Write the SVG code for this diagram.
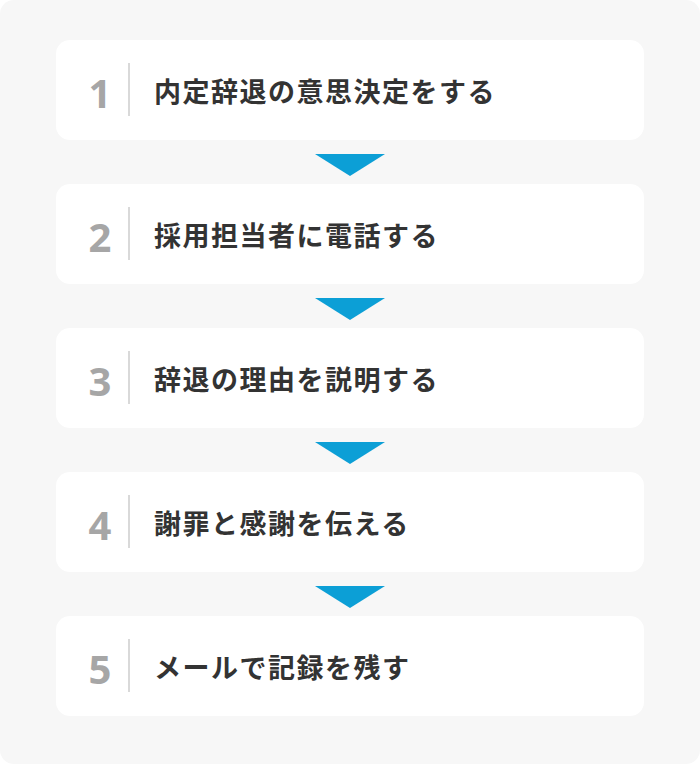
<svg xmlns="http://www.w3.org/2000/svg" width="700" height="764" viewBox="0 0 700 764">
<style>
.card{fill:#ffffff}
.num{font-family:"Noto Sans","Liberation Sans",sans-serif;font-weight:700;font-size:40px;fill:#a6a6a6;text-anchor:middle}
.div{stroke:#d9d9d9;stroke-width:2}
.lbl{font-family:"Noto Sans CJK JP","Noto Sans CJK SC",sans-serif;font-weight:700;font-size:27px;fill:#333333;letter-spacing:1.5px}
.arr{fill:#0c9fd6}
</style>
<rect x="0" y="0" width="700" height="764" rx="14" fill="#f7f7f7"/>
<g id="connectors">
<polygon class="arr" points="315,154 385,154 350,176"/>
<polygon class="arr" points="315,298 385,298 350,320"/>
<polygon class="arr" points="315,442 385,442 350,464"/>
<polygon class="arr" points="315,586 385,586 350,608"/>
</g>
<g id="step1">
<rect class="card" x="56" y="40" width="588" height="100" rx="14"/>
<text class="num" x="100" y="108">1</text>
<line class="div" x1="129" y1="63" x2="129" y2="116"/>
<text class="lbl" x="154" y="102">内定辞退の意思決定をする</text>
</g>
<g id="step2">
<rect class="card" x="56" y="184" width="588" height="100" rx="14"/>
<text class="num" x="100" y="252">2</text>
<line class="div" x1="129" y1="207" x2="129" y2="260"/>
<text class="lbl" x="154" y="246">採用担当者に電話する</text>
</g>
<g id="step3">
<rect class="card" x="56" y="328" width="588" height="100" rx="14"/>
<text class="num" x="100" y="396">3</text>
<line class="div" x1="129" y1="351" x2="129" y2="404"/>
<text class="lbl" x="154" y="390">辞退の理由を説明する</text>
</g>
<g id="step4">
<rect class="card" x="56" y="472" width="588" height="100" rx="14"/>
<text class="num" x="100" y="540">4</text>
<line class="div" x1="129" y1="495" x2="129" y2="548"/>
<text class="lbl" x="154" y="534">謝罪と感謝を伝える</text>
</g>
<g id="step5">
<rect class="card" x="56" y="616" width="588" height="100" rx="14"/>
<text class="num" x="100" y="684">5</text>
<line class="div" x1="129" y1="639" x2="129" y2="692"/>
<text class="lbl" x="154" y="678">メールで記録を残す</text>
</g>
</svg>
